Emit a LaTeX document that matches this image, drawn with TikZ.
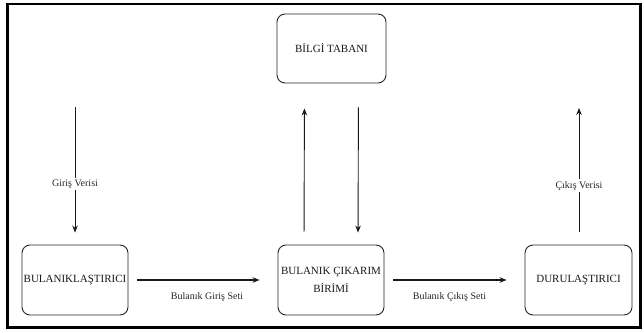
\documentclass[tikz,border=0pt]{standalone}
\usepackage{fontspec}
\setmainfont{Liberation Serif}
\newfontfamily\tnr{Liberation Serif}
\usetikzlibrary{arrows.meta}
\begin{document}
\begin{tikzpicture}[x=1pt,y=-1pt,
  box/.style={draw=black!85, line width=0.9pt, rounded corners=8pt, minimum width=106pt, minimum height=70pt, align=center, font=\tnr\fontsize{11}{18}\selectfont, text=black!90, inner sep=0pt},
  arr/.style={draw=black!90, line width=0.9pt, -{Stealth[length=7pt,width=5.5pt]}},
  harr/.style={arr, line width=1.3pt},
  lab/.style={font=\tnr\fontsize{10}{12}\selectfont, text=black!85, inner sep=1pt},
  onlab/.style={lab, fill=white, inner sep=2pt}]
\useasboundingbox (0,0) rectangle (644,332);
\fill[white] (0,0) rectangle (644,332);
\draw[line width=2.6pt] (7.5,4) rectangle (640.5,327.5);
% boxes
\node[box, minimum width=109pt, minimum height=69pt] (bilgi) at (331.5,48.5) {BİLGİ TABANI};
\node[box] (bul) at (75,280) {BULANIKLAŞTIRICI};
\node[box] (cik) at (331,280) {BULANIK ÇIKARIM\\BİRİMİ};
\node[box, minimum width=107pt] (dur) at (578.5,280) {DURULAŞTIRICI};
% free ends
\coordinate (gin) at (75,107);
\coordinate (cout) at (579,108);
% vertical arrows
\draw[arr, shorten >=12pt] (gin) -- node[onlab, pos=0.56] {Giriş Verisi} (bul.north);
\draw[arr, shorten <=13pt, shorten >=25pt] ([xshift=-27pt]cik.north) -- ([xshift=-27pt]bilgi.south);
\draw[arr, shorten <=24pt, shorten >=12pt] ([xshift=27pt]bilgi.south) -- ([xshift=27pt]cik.north);
\draw[arr, shorten <=13pt] ([xshift=0.5pt]dur.north) -- node[onlab, pos=0.43] {Çıkış Verisi} (cout);
% horizontal arrows
\draw[harr, shorten <=9pt, shorten >=18pt] (bul.east) -- node[lab, below=11pt, xshift=4pt] {Bulanık Giriş Seti} (cik.west);
\draw[harr, shorten <=9pt, shorten >=18pt] (cik.east) -- node[lab, below=11pt, xshift=-5pt] {Bulanık Çıkış Seti} (dur.west);
\end{tikzpicture}
\end{document}
